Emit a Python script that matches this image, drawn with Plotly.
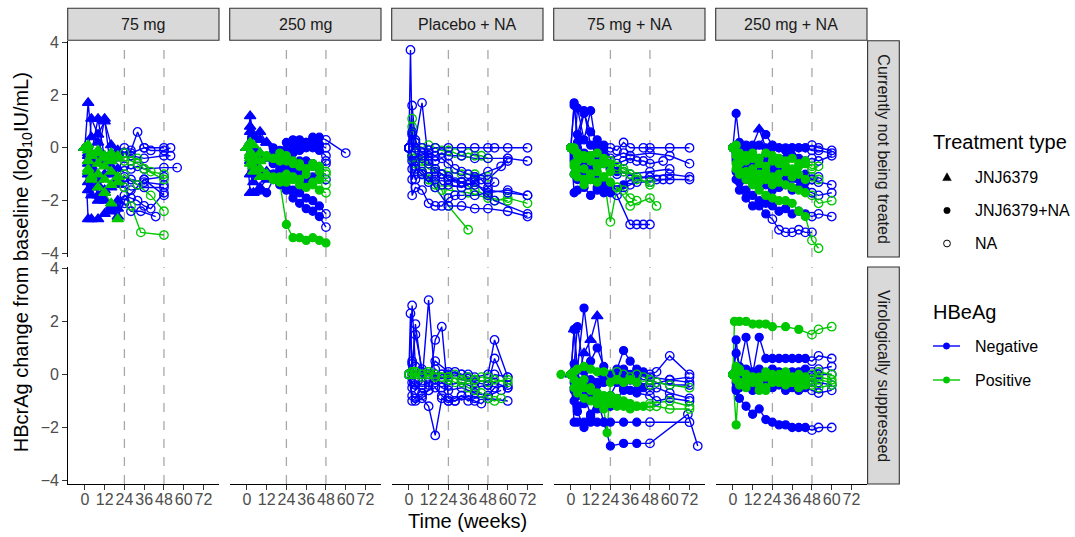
import plotly.graph_objects as go

# ---------------- data ----------------
COLS = ["75 mg", "250 mg", "Placebo + NA", "75 mg + NA", "250 mg + NA"]
ROWS = ["Currently not being treated", "Virologically suppressed"]
X_TICKS = [0, 12, 24, 36, 48, 60, 72]
Y_TICKS = [-4, -2, 0, 2, 4]
REF_WEEKS = [24, 48]
SHAPE_LABELS = ["JNJ6379", "JNJ6379+NA", "NA"]
HBEAG_LABELS = ["Negative", "Positive"]

WA = [0, 2, 4, 8, 12, 16, 20, 24, 28, 32, 36, 40, 44, 48]
WB = WA + [52, 60]
WC = WA + [52, 60, 72]
WD = WA + [60]

# each subject: (HBeAg, weeks, change from baseline, treatment codes)
# treatment codes: T = JNJ6379, F = JNJ6379+NA, O = NA (last code repeats)
P_75_NT = [
    ("N", [0, 2, 4, 8, 12, 16, 20, 24, 28, 32, 36, 40, 48, 52], [0, 1.7, 0.4, 0.2, -0.3, -0.5, -0.4, -0.2, -0.1, 0.6, 0.0, -0.1, -0.1, 0.0], "TTTTTTTO"),
    ("N", [0, 2, 4, 8, 12, 16, 20, 24, 28, 36, 48, 52], [0, -0.3, 1.1, 0.5, 1.0, 0.1, -0.2, -0.2, -0.3, -0.4, -0.3, -0.3], "TTTTTTTO"),
    ("N", [0, 2, 4, 8, 12, 16, 20, 24, 28, 32, 36, 48, 56], [0, -0.6, -0.2, 1.1, -0.4, -0.7, -0.8, -0.7, -0.8, -0.7, -0.8, -0.75, -0.75], "TTTTTTTO"),
    ("N", [0, 2, 4, 8, 12, 16, 20, 24, 32, 36, 48], [0, -1.0, -0.7, -0.3, 1.1, -1.0, -1.2, -1.1, -1.4, -1.2, -1.1], "TTTTTTTO"),
    ("N", [0, 2, 4, 8, 12, 16, 20, 24, 28, 36, 48], [0, -1.3, -1.5, -1.4, -1.6, -1.5, -1.4, -1.5, -1.6, -1.5, -1.5], "TTTTTTTO"),
    ("N", [0, 2, 4, 8, 12, 16, 20, 24, 28, 34, 43], [0, -2.7, -2.7, -2.7, -2.5, -2.3, -2.0, -2.1, -2.4, -2.4, -2.6], "TTTTTTTO"),
    ("N", [0, 2, 4, 8, 12, 16, 20, 24, 28, 32, 36, 40, 48], [0, -0.5, -1.0, -1.8, -2.0, -2.2, -2.3, -1.8, -1.9, -2.0, -2.2, -2.3, -1.7], "TTTTTTTO"),
    ("N", [0, 2, 4, 8, 12, 16, 20, 24, 28, 36, 48], [0, -0.2, -0.5, -0.3, -0.6, -0.2, -0.1, 0.0, -0.2, 0.0, 0.0], "TTTTTTTO"),
    ("N", [0, 2, 4, 8, 12, 16, 20, 24, 36, 48], [0, -1.6, -1.8, -2.0, -1.7, -2.4, -2.6, -2.0, -1.2, -1.8], "TTTTTTTO"),
    ("N", [0, 2, 4, 8, 12, 16, 20, 24, 28, 36, 48], [0, -0.9, -0.8, -1.2, -1.0, -0.9, -1.1, -1.3, -1.2, -1.3, -1.4], "TTTTTTTO"),
    ("P", [0, 2, 4, 8, 12, 16, 20, 24, 28, 32, 36, 48], [0, -0.1, -0.2, -0.1, -0.3, -0.2, -0.4, -0.2, -0.5, -0.6, -0.8, -1.2], "TTTTTTTO"),
    ("P", [0, 2, 4, 8, 12, 16, 20, 24, 28, 34, 48], [0, -0.5, -0.3, -0.6, -0.7, -0.9, -1.1, -1.5, -2.2, -3.2, -3.3], "TTTTTTTO"),
    ("P", [0, 2, 4, 8, 12, 16, 20, 24, 32, 40, 48], [0, -0.8, -1.1, -1.0, -1.2, -1.4, -1.3, -1.0, -1.4, -1.8, -2.4], "TTTTTTTO"),
    ("P", [0, 2, 4, 8, 12, 16, 20, 24, 32, 40, 48], [0, 0.1, -0.3, -0.2, -0.4, -0.5, -0.3, -0.5, -0.4, -0.9, -1.0], "TTTTTTTO"),
    ("P", [0, 2, 4, 8, 12, 16, 20], [0, -0.9, -1.2, -1.5, -1.7, -2.1, -2.7], "T"),
]

P_250_NT = [
    ("N", WD, [0, 1.2, 0.5, 0.3, 0.2, 0.0, -0.1, 0.2, 0.3, 0.3, 0.2, 0.4, 0.4, 0.3, -0.2], "TTTTTFFFFFFFFO"),
    ("N", WA, [0, 0.8, 0.4, 0.6, 0.2, -0.2, -0.3, -0.1, 0.0, 0.1, 0.2, 0.3, 0.1, 0.0], "TTTTTFFFFFFFFO"),
    ("N", WA, [0, 0.6, -0.1, -0.3, -0.4, -0.5, -0.3, -0.4, -0.2, -0.1, 0.0, 0.0, -0.1, -0.3], "TTTTTFFFFFFFFO"),
    ("N", WA, [0, -0.5, -0.8, -1.0, -0.9, -1.0, -1.1, -0.8, -0.7, -0.7, -0.6, -0.7, -0.8, -0.6], "TTTTTFFFFFFFFO"),
    ("N", WA, [0, -1.7, -1.7, -1.6, -1.7, -1.2, -1.3, -1.6, -1.9, -2.1, -2.3, -2.4, -2.6, -3.0], "TTTFFFFFFFFFFO"),
    ("N", WA, [0, -1.0, -1.3, -1.5, -1.2, -1.1, -1.4, -1.5, -1.6, -1.7, -1.9, -2.0, -2.2, -2.5], "TTTTTFFFFFFFFO"),
    ("N", WA, [0, -0.3, -0.6, -0.9, -1.1, -1.0, -0.9, -1.0, -0.8, -1.0, -1.2, -1.1, -1.0, -1.2], "TTTTTFFFFFFFFO"),
    ("N", WA, [0, 0.2, 0.0, -0.2, -0.4, -0.6, -0.8, -0.7, -0.6, -0.5, -0.5, -0.6, -0.7, -0.5], "TTTTTFFFFFFFFO"),
    ("P", WA, [0, -0.2, -0.3, -0.5, -0.4, -0.4, -0.5, -0.3, -0.5, -0.6, -0.8, -0.7, -0.9, -1.0], "TTTTTFFFFFFFFO"),
    ("P", WA, [0, -0.4, -0.7, -0.8, -1.1, -1.2, -1.3, -2.9, -3.4, -3.4, -3.5, -3.4, -3.5, -3.6], "TTTTTF"),
    ("P", WA, [0, -0.6, -0.5, -0.8, -1.0, -1.1, -1.2, -1.3, -1.2, -1.4, -1.5, -1.4, -1.6, -1.7], "TTTTTFFFFFFFFO"),
    ("P", WA, [0, 0.2, 0.1, -0.2, -0.3, -0.4, -0.2, -0.5, -0.6, -0.7, -0.8, -0.6, -0.7, -0.9], "TTTTFFFFFFFFFO"),
    ("P", WA, [0, -0.3, -0.9, -1.1, -1.0, -1.2, -1.1, -1.0, -1.1, -1.2, -1.0, -1.3, -1.2, -1.4], "TTTTTFFFFFFFFO"),
]

P_PBO_NT = [
    ("P", WA, [0, 1.1, 0.2, 0.0, 0.1, 0.0, -0.1, -0.1, -0.2, -0.3, -0.2, -0.3, -0.3, -0.4], "O"),
    ("P", [0, 2, 4, 8, 12, 16, 20, 24, 36], [0, -0.4, -0.6, -0.9, -1.2, -1.4, -1.6, -2.2, -3.1], "O"),
    ("P", [0, 2, 4, 8, 12, 16, 20, 24, 32, 40, 48, 52, 60, 72], [0, -0.3, -0.2, -0.6, -0.8, -0.9, -1.0, -1.1, -1.3, -1.6, -1.8, -2.0, -1.9, -2.1], "O"),
    ("P", [0, 2, 4, 8, 12, 16, 24, 32, 40, 48], [0, 0.8, -0.2, -0.5, -0.6, -0.8, -0.9, -1.0, -1.0, -1.1], "O"),
    ("P", [0, 4, 8, 12, 16, 24, 36, 48, 60], [0, -0.8, -1.0, -1.2, -1.5, -1.6, -1.7, -1.9, -2.0], "O"),
    ("N", [0, 1, 2, 4, 8, 12, 16, 24, 32, 40, 48, 52, 60, 72], [0, 3.7, 0.2, 0.0, 0.0, -0.1, 0.0, 0.0, 0.0, 0.0, 0.0, 0.0, 0.0, 0.0], "O"),
    ("N", [0, 2, 4, 8, 12, 16, 20, 24, 28, 32, 36, 40, 48, 56, 60], [0, 1.6, 0.2, -0.2, -0.3, -0.5, -0.4, -0.6, -0.8, -0.9, -1.0, -1.1, -0.9, -0.7, -0.4], "O"),
    ("N", [0, 2, 4, 8, 12, 16, 24, 32, 40, 48, 60, 72], [0, 0.5, 0.3, 1.7, -0.6, -0.8, -1.2, -1.3, -1.4, -1.6, -1.7, -1.8], "O"),
    ("N", [0, 2, 4, 8, 12, 16, 20, 24, 32, 40, 48, 52, 72], [0, -1.2, -0.8, -1.0, -1.3, -1.1, -1.4, -1.4, -1.5, -1.3, -1.8, -2.0, -2.5], "O"),
    ("N", [0, 2, 4, 8, 12, 16, 20, 24, 32, 40, 48, 60, 72], [0, -0.3, -0.5, -0.4, -0.2, -0.3, -0.2, -0.3, -0.3, -0.4, -0.4, -0.4, -0.5], "O"),
    ("N", [0, 2, 4, 8, 12, 16, 20, 24, 28, 32, 40, 48, 60, 72], [0, -1.8, -1.5, -1.6, -2.1, -2.2, -2.2, -1.9, -1.8, -1.8, -1.8, -1.7, -1.6, -1.8], "O"),
    ("N", WA + [52], [0, -0.8, -1.2, -1.0, -1.1, -1.2, -1.0, -1.2, -1.3, -1.3, -1.4, -1.2, -1.2, -1.5, -1.3], "O"),
    ("N", [0, 2, 4, 8, 12, 16, 24, 32, 40, 48, 60, 72], [0, -0.5, -0.7, -0.9, -1.1, -1.5, -2.2, -2.2, -2.3, -2.3, -2.4, -2.6], "O"),
    ("N", [0, 2, 4, 8, 12, 16, 20, 24, 32, 40, 48, 60], [0, 0.6, -0.2, -0.3, -0.5, -0.9, -1.0, -1.1, -1.3, -1.1, -1.2, -0.5], "O"),
]

P_75NA_NT = [
    ("N", [0, 2, 4, 8, 12, 16, 20, 24, 28, 32, 36, 44, 48, 60, 72], [0, 1.6, 0.5, 1.4, 0.1, 0.0, 0.0, 0.0, -0.1, 0.2, 0.0, 0.0, 0.0, 0.0, 0.0], "FFFFFFFO"),
    ("N", [0, 2, 4, 8, 12, 16, 20, 24, 32, 36, 48, 60, 72], [0, 1.7, 0.2, 1.3, 0.6, 0.3, 0.1, -0.4, -0.2, -0.3, -0.2, -0.3, -0.6], "FFFFFFFO"),
    ("N", [0, 2, 4, 8, 12, 16, 20, 24, 28, 32, 40, 48, 52, 60], [0, -0.3, 1.5, 0.3, 1.4, -0.2, -0.5, -0.8, -1.0, -0.9, -1.1, -1.1, -1.2, -1.2], "FFFFFFFO"),
    ("N", [0, 2, 4, 8, 12, 16, 20, 24, 32, 36, 48, 60, 72], [0, -1.0, -1.2, -1.3, -1.0, -1.2, -1.4, -1.5, -1.4, -1.2, -1.1, -1.0, -1.1], "FFFFFFFFFO"),
    ("N", [0, 2, 4, 8, 12, 16, 20, 24, 28, 32, 36, 40, 48, 56, 72], [0, -1.7, -1.6, -1.5, -1.8, -1.6, -1.5, -1.4, -1.6, -1.5, -1.4, -1.3, -1.3, -1.2, -1.2], "FFFFFFFFO"),
    ("N", [0, 2, 4, 8, 12, 16, 20, 24, 28, 36, 40, 44, 48], [0, -0.5, -0.7, -0.9, -1.2, -1.5, -1.7, -1.7, -1.8, -2.9, -2.9, -2.9, -2.9], "FFFFFFFFO"),
    ("N", [0, 2, 4, 8, 12, 16, 20, 24, 28, 36, 48, 60], [0, -0.4, -0.6, -0.5, -0.8, -0.7, -0.6, -0.8, -0.9, -1.0, -0.9, -0.8], "FFFFFFFFFO"),
    ("N", WA + [56], [0, -0.2, 0.0, -0.2, -0.3, -0.4, -0.3, -0.5, -0.6, -0.5, -0.4, -0.5, -0.5, -0.6, -0.5], "FFFFFFFO"),
    ("P", [0, 2, 4, 8, 12, 16, 20, 24, 28, 32, 36, 40, 48], [0, -0.1, -0.2, -0.3, -0.5, -0.6, -0.5, -0.6, -0.8, -0.9, -1.0, -1.2, -1.3], "FFFFFFFFO"),
    ("P", [0, 2, 4, 8, 12, 16, 20, 24, 28, 36, 48, 52], [0, -0.6, -0.8, -1.2, -1.0, -0.9, -1.1, -2.8, -1.5, -2.2, -1.9, -2.2], "FFFFFFFO"),
    ("P", [0, 2, 4, 8, 12, 16, 20, 24, 28, 32, 36, 40], [0, -1.0, -1.1, -1.4, -1.2, -1.3, -1.1, -1.3, -1.5, -1.6, -1.9, -2.0], "FFFFFFFFO"),
    ("P", [0, 2, 4, 8, 12, 16, 20, 24, 28, 32, 40, 48], [0, 0.0, -0.3, -0.4, -0.3, -0.2, -0.4, -0.5, -0.7, -0.8, -1.1, -1.4], "FFFFFFFO"),
    ("P", [0, 2, 4, 8, 12, 16, 20, 24], [0, -0.7, -0.5, -0.8, -1.0, -0.7, -0.6, -0.9], "F"),
]

P_250NA_NT = [
    ("N", WB, [0, 1.3, 0.2, 0.0, 0.1, 0.7, 0.0, 0.0, 0.0, 0.0, 0.0, 0.0, 0.0, -0.1, -0.1, -0.2], "FFFFFTFFFFFFFO"),
    ("N", WB, [0, -0.3, 0.0, 0.1, 0.0, 0.1, 0.5, 0.1, 0.0, -0.1, 0.0, 0.0, 0.0, 0.1, 0.0, -0.1], "FFFFFFFFFFFFFO"),
    ("N", WA + [52], [0, -0.2, -0.4, -0.5, -0.7, -0.6, -0.5, -0.8, -0.9, -0.9, -1.0, -1.1, -1.0, -1.2, -1.1], "FFFFFFFFFFFFFO"),
    ("N", WB, [0, -0.5, -0.9, -1.2, -1.3, -1.5, -1.4, -1.6, -1.5, -1.4, -1.6, -1.5, -1.6, -1.7, -1.8, -1.7], "FFFFFFFFFFFFFO"),
    ("N", WB, [0, -0.9, -1.3, -1.6, -1.8, -2.0, -2.1, -2.2, -2.4, -2.3, -2.5, -2.4, -2.5, -2.6, -2.5, -2.6], "FFFFFFFFFFFFFO"),
    ("N", WA, [0, -1.2, -1.6, -1.9, -2.2, -2.2, -2.5, -2.7, -3.1, -3.2, -3.2, -3.1, -3.2, -3.2], "FFFFFFFO"),
    ("N", WB, [0, -0.4, -0.6, -0.7, -0.8, -0.7, -0.9, -0.8, -1.0, -1.1, -1.2, -1.2, -1.3, -1.2, -1.3, -1.4], "FFFFFFFFFFTFFO"),
    ("N", WB, [0, -0.1, -0.3, -0.2, -0.3, -0.4, -0.3, -0.4, -0.5, -0.4, -0.3, -0.4, -0.5, -0.4, -0.5, -0.3], "FFFFFFFFFFFFFO"),
    ("P", WA + [52], [0, -0.3, -0.4, -0.5, -0.4, -0.6, -0.7, -0.5, -0.6, -0.7, -0.8, -0.7, -0.6, -0.8, -0.7], "FFFFFFFFFFFFFO"),
    ("P", WB, [0, -0.6, -0.9, -1.0, -1.1, -1.3, -1.2, -1.4, -1.3, -1.4, -1.5, -1.6, -1.7, -1.8, -2.1, -2.0], "FFFFFFFFFFFFFO"),
    ("P", WA + [52], [0, -0.8, -1.0, -1.2, -1.4, -1.6, -1.8, -1.9, -2.0, -2.0, -2.1, -2.4, -2.6, -3.5, -3.8], "FFFFFFFFFFFFFO"),
    ("P", WA, [0, 0.1, -0.2, -0.3, -0.2, -0.4, -0.2, -0.3, -0.4, -0.5, -0.4, -0.6, -0.5, -0.7], "FFFFFFFFFFFFFO"),
    ("P", WA + [52], [0, -0.2, -0.6, -0.9, -0.8, -1.0, -0.9, -1.1, -1.0, -0.9, -1.1, -1.0, -1.2, -1.1, -1.2], "FFFFFFFFFFFFFO"),
]

P_PBO_VS = [
    ("N", WA[:12] + [48, 52, 60], [0, 2.6, 0.3, 0.1, 0.0, -0.2, 0.0, 0.0, 0.1, 0.0, 0.0, -0.1, 0.0, 1.3, -0.1], "O"),
    ("N", [0, 1, 2, 4, 8, 12, 16, 20, 24, 32, 40, 48, 52, 60], [0, 2.3, 0.0, 1.9, 0.0, -0.4, 0.2, 0.0, -0.1, -0.2, -0.3, -0.4, 0.6, -0.5], "O"),
    ("N", [0, 2, 4, 8, 12, 16, 20, 24, 32, 40, 48, 56], [0, 0.4, -0.6, -0.3, 2.8, -0.3, -0.5, -0.6, -0.5, -0.7, -0.8, -0.6], "O"),
    ("N", [0, 2, 4, 8, 12, 16, 20, 24, 28, 36, 48], [0, -0.8, -0.9, -0.8, -0.6, 1.3, 1.8, -0.9, -1.0, -0.8, -0.9], "O"),
    ("N", WA[:12] + [48, 52, 60], [0, -1.0, -1.0, -0.9, -1.2, -2.3, -0.9, -1.0, -1.0, -0.8, -1.0, -0.9, -0.8, -0.5, -0.4], "O"),
    ("N", [0, 2, 4, 8, 12, 16, 20, 24, 32, 40, 44, 48, 60], [0, -0.3, -0.4, -0.7, -0.6, -0.5, -0.8, -1.0, -0.8, -1.0, -1.1, -0.9, -1.0], "O"),
    ("N", [0, 2, 4, 8, 12, 16, 24, 32, 36, 40, 48, 52, 60], [0, 0.5, 1.5, 0.2, 0.0, 0.5, 0.1, 0.0, -0.1, -0.2, -0.3, 0.0, -0.1], "O"),
    ("N", [0, 2, 4, 8, 12, 16, 20, 24, 32, 40, 48, 52, 60], [0, -0.5, -0.3, -0.4, -0.3, -0.2, -0.3, -0.4, -0.3, -0.5, -0.4, -0.3, -0.5], "O"),
    ("P", WB, [0, 0.1, 0.0, 0.0, 0.1, 0.0, -0.1, -0.1, 0.0, -0.2, -0.1, -0.2, -0.1, -0.1, -0.2, -0.3], "O"),
    ("P", WA + [52, 56], [0, 0.0, 0.1, -0.1, 0.0, -0.1, -0.1, -0.2, -0.3, -0.3, -0.5, -0.6, -0.7, -0.9, -1.0, -0.9], "O"),
    ("P", [0, 2, 4, 8, 12, 16, 24, 32, 40, 48, 60], [0, 0.1, 0.1, 0.0, 0.1, -0.1, -0.1, -0.2, -0.2, -0.3, -0.2], "O"),
]

P_75NA_VS = [
    ("N", WC, [0, 1.7, 0.2, 2.5, 0.5, 1.0, 0.3, 0.0, 0.2, 0.9, 0.5, 0.2, 0.1, 0.0, 0.1, 0.7, 0.0], "FFFFFFFFFFFFFO"),
    ("N", [0, 2, 4, 8, 12, 16, 20, 24, 28, 32, 36, 40, 48, 60, 72], [0, 1.7, -0.2, 0.8, 1.3, 2.2, 0.0, 0.0, -0.1, 0.2, 0.0, 0.0, -0.1, -0.2, -0.1], "TTTTTTTFFFFFO"),
    ("N", WC, [0, -0.3, -0.5, -0.2, -0.4, -0.3, -0.1, -0.1, -0.2, -0.3, -0.2, -0.1, -0.2, -0.2, -0.3, -0.4, -0.4], "FFFFFFFO"),
    ("N", [0, 2, 4, 8, 12, 16, 20, 24, 32, 40, 48, 72], [0, -1.8, -1.8, -1.8, -1.8, -1.8, -1.8, -1.8, -1.8, -1.8, -1.8, -1.8], "FFFFFFFFFFO"),
    ("N", [0, 2, 4, 8, 12, 16, 20, 24, 32, 40, 48, 71, 77], [0, -0.5, -1.2, -0.8, -1.5, -0.9, -1.8, -2.7, -2.6, -2.6, -2.6, -1.5, -2.7], "FFFFFFFFFFO"),
    ("N", WC, [0, -0.6, -0.8, -1.1, -0.9, -0.7, -0.9, -0.8, -0.3, -0.5, -0.6, -0.6, -0.5, -0.6, -0.5, -0.7, -0.9], "FFFFFFFFFFFFFO"),
    ("N", [0, 2, 4, 8, 12, 16, 20, 24, 28, 32, 36, 40, 48, 60, 72], [0, 0.4, 1.8, 0.1, -0.2, -0.4, -0.3, -0.2, -0.1, 0.0, -0.2, -0.3, -0.4, -0.2, -0.3], "FFFFFFFFFFFFO"),
    ("N", [0, 2, 4, 8, 12, 16, 24, 32, 40, 48, 52, 60, 72], [0, -1.0, -1.4, -2.0, -1.6, -1.3, -1.2, -0.6, -0.7, -0.8, -1.0, -0.9, -1.0], "FFFFFFFFFO"),
    ("P", [-6, 0, 4, 8, 12, 16, 20, 24, 28, 32, 36, 40, 44, 48, 52, 60, 72], [0.0, 0.0, -0.3, -0.5, -0.6, -0.7, -0.8, -0.8, -0.9, -1.0, -1.1, -1.2, -1.2, -1.2, -1.2, -1.3, -1.3], "FFFFFFFFFFFFFO"),
    ("P", [0, 2, 4, 8, 12, 16, 20, 22, 24, 28, 32, 36, 40, 48], [0, -0.2, -0.4, -0.2, -0.5, -0.8, -1.3, -2.2, -0.3, -0.2, -0.3, -0.2, -0.3, -0.4], "FFFFFFFFFFFFFO"),
    ("P", WC, [0, 0.1, 0.2, 0.3, 0.2, 0.1, 0.1, 0.0, 0.1, 0.0, -0.1, 0.0, -0.1, -0.2, -0.3, -0.4, -0.5], "FFFFFFFO"),
    ("P", [0, 2, 4, 8, 12, 16, 20, 24, 28, 32, 36, 40, 48, 60, 72], [0, -0.5, -0.7, -0.9, -1.0, -1.1, -1.0, -1.1, -1.2, -1.2, -1.3, -1.2, -1.1, -1.0, -1.2], "FFFFFFFFFFFFO"),
]

P_250NA_VS = [
    ("N", WB, [0, -0.5, -0.9, -1.2, -1.5, -1.3, -1.7, -1.8, -1.9, -1.9, -2.0, -2.0, -2.0, -2.1, -2.0, -2.0], "FFFFFFFFFFFFFO"),
    ("N", WB, [0, 1.3, 0.2, 1.4, 0.0, 1.4, 0.6, 0.6, 0.6, 0.6, 0.6, 0.6, 0.6, 0.5, 0.7, 0.6], "FFFFFFFFFFFFFO"),
    ("N", WB, [0, 0.8, 0.3, 0.2, 0.1, 0.2, 0.0, 0.1, 0.0, -0.1, 0.0, -0.1, 0.0, -0.1, 0.0, 0.0], "FFFFFFFFFFFFFO"),
    ("N", WB, [0, -0.3, -0.5, -0.4, -0.6, -0.4, -0.5, -0.5, -0.4, -0.6, -0.5, -0.6, -0.5, -0.6, -0.7, -0.6], "FFFFFFFFFFFFFO"),
    ("N", WB, [0, 0.2, -0.2, -0.1, -0.3, -0.2, -0.3, -0.2, -0.1, -0.2, -0.3, -0.2, -0.3, -0.2, -0.3, -0.4], "FFFFFFFFFFFFFO"),
    ("N", WB, [0, -0.6, -0.4, -0.2, -0.1, 0.1, -0.1, 0.2, 0.1, 0.0, 0.1, 0.1, 0.2, 0.1, 0.2, 0.3], "FFFFFFFFFFFFFO"),
    ("P", [0, 1, 4, 8, 12, 16, 20, 24, 32, 40, 48, 52, 60], [0, 2.0, 2.0, 2.0, 1.9, 1.9, 1.9, 1.8, 1.8, 1.7, 1.5, 1.7, 1.8], "FFFFFFFFFFO"),
    ("P", WB, [0, -1.9, 0.1, 0.0, -0.1, -0.2, -0.1, 0.0, -0.2, -0.1, -0.3, -0.2, -0.1, -0.3, -0.2, -0.3], "FFFFFFFFFFFFFO"),
    ("P", WB, [0, -0.2, -0.4, -0.5, -0.3, -0.6, -0.5, -0.3, -0.2, -0.4, -0.3, -0.5, -0.4, -0.4, -0.5, -0.4], "FFFFFFFFFFFFFO"),
    ("P", WB, [0, 0.1, -0.3, -0.2, -0.1, -0.4, -0.6, -0.2, -0.3, -0.2, -0.1, -0.3, -0.2, -0.2, -0.1, -0.2], "FFFFFFFFFFFFFO"),
    ("P", WB, [0, 0.3, 0.2, 0.0, -0.2, -0.1, 0.1, -0.1, 0.0, 0.1, -0.1, 0.0, -0.1, 0.0, 0.1, 0.0], "FFFFFFFFFFFFFO"),
]

PANELS = {
    (0, 0): P_75_NT, (0, 1): P_250_NT, (0, 2): P_PBO_NT, (0, 3): P_75NA_NT, (0, 4): P_250NA_NT,
    (1, 2): P_PBO_VS, (1, 3): P_75NA_VS, (1, 4): P_250NA_VS,
}

# ---------------- styling ----------------
W, H = 1075, 537
COLOR = {"N": "#0000FF", "P": "#00C800"}
SYMBOL = {"T": "triangle-up", "F": "circle", "O": "circle-open"}
MSIZE = {"T": 10, "F": 8, "O": 8.5}
FONT = "Liberation Sans, Arial, sans-serif"
COL_PX = [(67.7, 219.0), (229.7, 381.0), (391.7, 543.0), (553.7, 705.0), (715.7, 867.0)]
ROW_PX = [(40.7, 257.0), (267.0, 484.0)]
XR = [-10.4, 81.4]
YR = [-4.13, 4.05]


def px(xp):
    return xp / W


def py(yp):
    return 1 - yp / H


def ax(r, c):
    return r * 5 + c + 1


def label(text, x, y, size, color="black", xanchor="center", angle=0):
    return dict(text=text, xref="paper", yref="paper", x=px(x), y=py(y), xanchor=xanchor,
                yanchor="middle", textangle=angle, showarrow=False,
                font=dict(size=size, color=color, family=FONT))


fig = go.Figure()

# lines first, then points (as geom_line + geom_point)
for layer in ("lines", "markers"):
    for (r, c), subjects in PANELS.items():
        i = ax(r, c)
        xa = "x" if i == 1 else f"x{i}"
        ya = "y" if i == 1 else f"y{i}"
        for hb, wk, val, codes in subjects:
            n = min(len(wk), len(val))
            wk, val = wk[:n], val[:n]
            codes = (codes + codes[-1] * n)[:n]
            col = COLOR[hb]
            if layer == "lines":
                fig.add_trace(go.Scatter(x=wk, y=val, mode="lines", xaxis=xa, yaxis=ya,
                                         line=dict(color=col, width=1.4), showlegend=False,
                                         hoverinfo="skip"))
            else:
                fig.add_trace(go.Scatter(x=wk, y=val, mode="markers", xaxis=xa, yaxis=ya,
                                         marker=dict(symbol=[SYMBOL[k] for k in codes],
                                                     size=[MSIZE[k] for k in codes], opacity=1,
                                                     color=col, line=dict(color=col, width=1.3)),
                                         showlegend=False))

layout = dict(width=W, height=H, margin=dict(l=0, r=0, t=0, b=0),
              paper_bgcolor="white", plot_bgcolor="white",
              font=dict(family=FONT, size=16, color="#4D4D4D"), showlegend=False)

shapes = []
annotations = []
for r in range(2):
    for c in range(5):
        i = ax(r, c)
        xk = "xaxis" if i == 1 else f"xaxis{i}"
        yk = "yaxis" if i == 1 else f"yaxis{i}"
        xa = "x" if i == 1 else f"x{i}"
        ya = "y" if i == 1 else f"y{i}"
        x0, x1 = COL_PX[c]
        y0, y1 = ROW_PX[r]
        bottom = (r == 1)
        left = (c == 0)
        layout[xk] = dict(domain=[px(x0), px(x1)], anchor=ya, range=XR, tickvals=X_TICKS,
                          ticktext=[str(v) for v in X_TICKS], tickangle=0, ticklabelstandoff=-4,
                          showticklabels=bottom, showline=bottom, linecolor="black", linewidth=1.1,
                          ticks="outside" if bottom else "", ticklen=4.5, tickwidth=1.1, tickcolor="#333333",
                          tickfont=dict(size=16, color="#4D4D4D", family=FONT),
                          showgrid=False, zeroline=False, fixedrange=True, automargin=False)
        layout[yk] = dict(domain=[py(y1), py(y0)], anchor=xa, range=YR, tickvals=Y_TICKS,
                          showticklabels=left, showline=left, linecolor="black", linewidth=1.1,
                          ticks="outside" if left else "", ticklen=4.5, tickwidth=1.1, tickcolor="#333333",
                          tickfont=dict(size=16, color="#4D4D4D", family=FONT),
                          showgrid=False, zeroline=False, fixedrange=True, automargin=False)
        for wref in REF_WEEKS:
            shapes.append(dict(type="line", xref=xa, yref=f"{ya} domain", x0=wref, x1=wref, y0=0, y1=1,
                               line=dict(color="#A8A8A8", width=1.3, dash="dash"), layer="below"))

# top strips
for c, lab in enumerate(COLS):
    x0, x1 = COL_PX[c]
    shapes.append(dict(type="rect", xref="paper", yref="paper", x0=px(x0), x1=px(x1), y0=py(40.3), y1=py(8.3),
                       fillcolor="#D9D9D9", line=dict(color="#333333", width=1.1)))
    annotations.append(label(lab, (x0 + x1) / 2, 24.5, 16, "#1A1A1A"))
# right strips
for r, lab in enumerate(ROWS):
    y0, y1 = ROW_PX[r]
    shapes.append(dict(type="rect", xref="paper", yref="paper", x0=px(867.6), x1=px(899.3), y0=py(y1), y1=py(y0),
                       fillcolor="#D9D9D9", line=dict(color="#333333", width=1.1)))
    annotations.append(label(lab, 883.5, (y0 + y1) / 2, 16, "#1A1A1A", angle=90))

# axis titles
annotations.append(label("Time (weeks)", 467.3, 521, 20))
annotations.append(label("HBcrAg change from baseline (log<sub>10</sub>IU/mL)", 22, 262.3, 20, angle=-90))

# legends (drawn manually to match ggplot guide layout)
LX_KEY, LX_TXT = 947, 972.5
annotations.append(label("Treatment type", 930.5, 141.7, 20, xanchor="left"))
ly = [177, 210.5, 243.5]
for lab, yy in zip(SHAPE_LABELS, ly):
    annotations.append(label(lab, LX_TXT, yy, 16, xanchor="left"))
shapes.append(dict(type="path", xref="paper", yref="paper",
                   path=f"M {px(LX_KEY-4.3)} {py(ly[0]+3.6)} L {px(LX_KEY+4.3)} {py(ly[0]+3.6)} L {px(LX_KEY)} {py(ly[0]-4.2)} Z",
                   fillcolor="black", line=dict(color="black", width=0.5)))
shapes.append(dict(type="circle", xref="paper", yref="paper", x0=px(LX_KEY-3.2), x1=px(LX_KEY+3.2),
                   y0=py(ly[1]+3.2), y1=py(ly[1]-3.2), fillcolor="black", line=dict(color="black", width=0.5)))
shapes.append(dict(type="circle", xref="paper", yref="paper", x0=px(LX_KEY-3.4), x1=px(LX_KEY+3.4),
                   y0=py(ly[2]+3.4), y1=py(ly[2]-3.4), fillcolor="white", line=dict(color="black", width=1)))

annotations.append(label("HBeAg", 930.5, 311.7, 20, xanchor="left"))
hy = [346, 380]
for lab, yy, k in zip(HBEAG_LABELS, hy, ["N", "P"]):
    annotations.append(label(lab, LX_TXT, yy, 16, xanchor="left"))
    shapes.append(dict(type="line", xref="paper", yref="paper", x0=px(933), x1=px(960), y0=py(yy), y1=py(yy),
                       line=dict(color=COLOR[k], width=1.4)))
    shapes.append(dict(type="circle", xref="paper", yref="paper", x0=px(946.5-3.2), x1=px(946.5+3.2),
                       y0=py(yy+3.2), y1=py(yy-3.2), fillcolor=COLOR[k], line=dict(color=COLOR[k], width=0.5)))

layout["shapes"] = shapes
layout["annotations"] = annotations
fig.update_layout(**layout)
fig.write_html("out.html")
